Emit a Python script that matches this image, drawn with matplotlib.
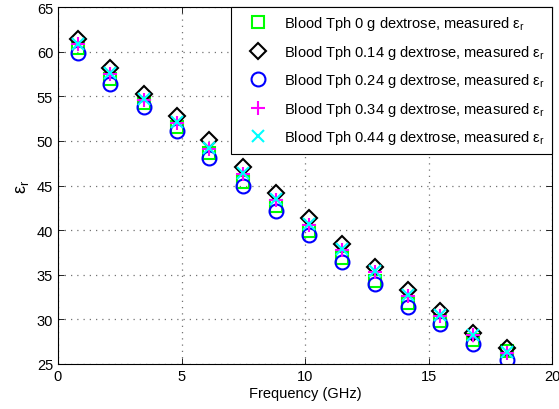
import numpy as np
import matplotlib
matplotlib.use("Agg")
import matplotlib.pyplot as plt

plt.rcParams['font.family'] = ['Liberation Sans', 'DejaVu Sans']
plt.rcParams['mathtext.default'] = 'regular'

# 频率 (GHz)
freq = [0.8, 2.12, 3.47, 4.82, 6.13, 7.48, 8.81, 10.16, 11.48, 12.82, 14.15, 15.47, 16.82, 18.17]

# 测量介电常数
eps_0g = [60.4, 56.9, 54.2, 51.5, 48.6, 45.4, 42.7, 39.9, 36.9, 34.3, 31.8, 29.8, 27.7, 26.5]
eps_014g = [61.4, 58.2, 55.3, 52.8, 50.1, 47.1, 44.2, 41.4, 38.5, 35.9, 33.3, 30.9, 28.5, 26.8]
eps_024g = [59.9, 56.4, 53.8, 51.1, 48.1, 44.9, 42.1, 39.4, 36.4, 34.0, 31.4, 29.5, 27.2, 25.5]
eps_034g = [60.9, 57.5, 54.6, 52.0, 49.1, 46.3, 43.4, 40.6, 37.8, 35.3, 32.6, 30.4, 28.2, 26.2]
eps_044g = [60.8, 57.6, 54.7, 52.1, 49.2, 46.4, 43.5, 40.7, 37.9, 35.4, 32.7, 30.5, 28.25, 26.4]

labels = ['Blood Tph 0 g dextrose, measured ε$_r$',
          'Blood Tph 0.14 g dextrose, measured ε$_r$',
          'Blood Tph 0.24 g dextrose, measured ε$_r$',
          'Blood Tph 0.34 g dextrose, measured ε$_r$',
          'Blood Tph 0.44 g dextrose, measured ε$_r$']

fig = plt.figure(figsize=(5.59, 4.10), dpi=100)
ax = fig.add_axes([58 / 559, 45 / 410, 494 / 559, 357 / 410])

mw = 1.5
ax.plot(freq, eps_0g, 's', ms=8, mfc='none', mec=(0, 1, 0), mew=mw, label=labels[0])
ax.plot(freq, eps_014g, 'D', ms=8, mfc='none', mec='k', mew=mw, label=labels[1])
ax.plot(freq, eps_024g, 'o', ms=10, mfc='none', mec=(0, 0, 1), mew=mw, label=labels[2])
ax.plot(freq, eps_034g, '+', ms=10, mec=(1, 0, 1), mew=mw, label=labels[3])
ax.plot(freq, eps_044g, 'x', ms=8, mec=(0, 1, 1), mew=mw, label=labels[4])

ax.set_xlim(0, 20)
ax.set_ylim(25, 65)
ax.set_xticks(np.arange(0, 21, 5))
ax.set_yticks(np.arange(25, 66, 5))
ax.tick_params(direction='in', top=True, right=True, labelsize=10.5, length=4, width=0.6)
ax.grid(True, linestyle=(0, (1, 4)), color='0.45', linewidth=0.9)
for s in ax.spines.values():
    s.set_linewidth(0.8)

ax.set_xlabel('Frequency (GHz)', fontsize=10.5, labelpad=2)
ax.set_ylabel('ε$_r$', fontsize=13, labelpad=4)

leg = ax.legend(loc='upper right', borderaxespad=0, fancybox=False, framealpha=1,
                edgecolor='k', fontsize=10.5, labelspacing=0.72, handletextpad=0.5,
                handlelength=2.6, borderpad=0.5)
leg.get_frame().set_linewidth(0.8)

fig.savefig('out.png', dpi=100)
